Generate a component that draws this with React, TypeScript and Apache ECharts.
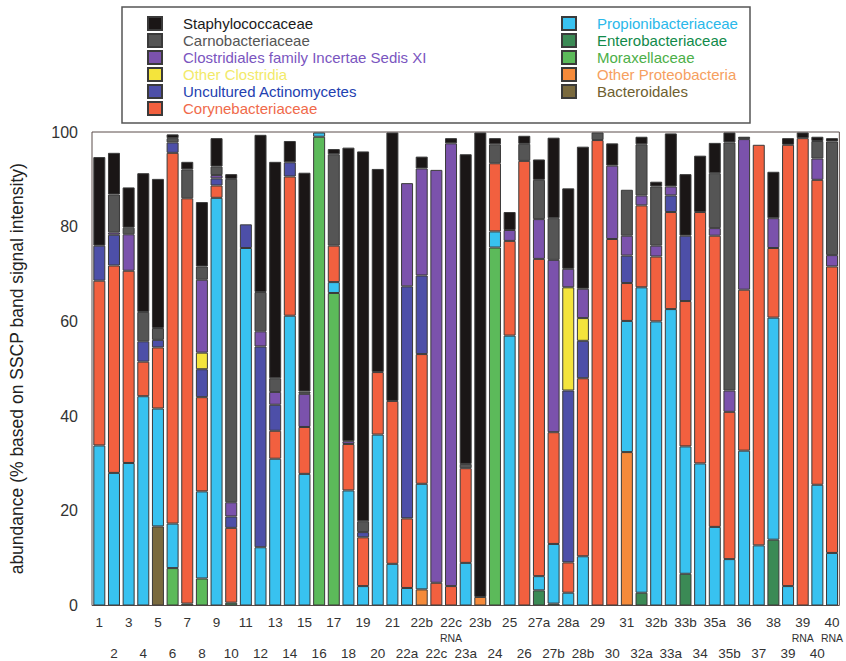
import React, { useEffect, useRef } from "react";
import * as echarts from "echarts";

const categories = [
  "1","2","3","4","5","6","7","8","9","10","11","12","13","14","15","16","17","18","19","20","21",
  "22a","22b","22c","22c RNA","23a","23b","24","25","26","27a","27b","28a","28b","29","30","31",
  "32a","32b","33a","33b","34","35a","35b","36","37","38","39","39 RNA","40","40 RNA",
];

// values per bar, bottom to top
const bacteroidales = [0,0,0,0,16.7,0,0,0,0,0,0,0,0,0,0,0,0,0,0,0,0, 0,0,0,0,0,0,0,0,0,0,0,0,0,0,0,0, 0,0,0,0,0,0,0,0,0,0,0,0,0,0];
const enterobacteriaceae = [0,0,0,0,0,0,0.4,0,0,0.6,0,0,0,0,0,0,0,0,0,0,0, 0,0,0,0,0,0,0,0,0,3.2,0.4,0,0,0,0,0, 2.7,0,0,6.7,0,0,0,0,0,13.9,0,0,0,0];
const moraxellaceae = [0,0,0,0,0,7.9,0,5.7,0,0,0,0,0,0,0,99.0,66.0,0,0,0,0, 0,0,0,0,0,0,75.6,0,0,0,0,0,0,0,0,0, 0,0,0,0,0,0,0,0,0,0,0,0,0,0];
const otherProteobacteria = [0,0,0,0,0,0,0,0,0,0,0,0,0,0,0,0,0,0,0,0,0, 0,3.4,0,0,0,1.8,0,0,0,0,0,0,0,0,0,32.4, 0,0,0,0,0,0,0,0,0,0,0,0,0,0];
const propionibacteriaceae = [33.8,28.0,30.1,44.2,24.9,9.4,0,18.4,86.1,0,75.5,12.3,31.0,61.2,27.8,0.9,2.3,24.3,4.1,36.1,8.8, 3.7,22.3,0,0,9.0,0,3.4,57.0,0,3.0,12.6,2.7,10.4,0,0,27.7, 64.5,60.0,62.6,26.9,30.0,16.6,9.8,32.7,12.7,46.9,4.1,0,25.5,11.1];
const corynebacteriaceae = [34.8,43.8,40.6,7.3,12.9,78.3,85.6,19.9,2.6,15.8,0,0,5.9,29.4,9.9,0,7.7,9.8,10.3,13.2,34.4, 14.7,27.4,4.8,4.1,20.0,0,14.4,20.0,93.9,67.0,23.6,6.4,37.6,98.3,77.4,8.0, 17.3,13.7,20.5,30.7,53.1,61.5,31.1,34.0,84.6,14.7,93.2,98.7,64.4,60.5];
const unculturedActinomycetes = [7.4,6.5,0,4.3,1.6,2.2,0,5.9,1.5,2.4,5.0,42.4,5.5,3.0,0,0,0,0,1.1,0,0, 49.0,16.6,0,0,0,0,0,0,0,0,0,36.3,7.9,0,0,5.8, 0,0,3.5,13.8,0,0,0,0,0,0,0,0,0,0];
const otherClostridia = [0,0,0,0,0,0,0,3.5,0,0,0,0,0,0,0,0,0,0,0,0,0, 0,0,0,0,0,0,0,0,0,0,0,21.8,4.8,0,0,0, 0,0,0,0,0,0,0,0,0,0,0,0,0,0];
const clostridialesXI = [0,0.5,7.7,0,0,0,0,15.4,0.7,3.0,0,3.2,2.7,0,7.0,0,0,0.6,0,0,0, 21.8,22.6,87.2,93.5,0,0,0,2.3,0,8.4,36.4,3.9,6.2,0,15.5,4.2, 2.1,2.3,1.9,0,0,1.6,4.5,31.8,0,6.3,0,0,4.5,2.4];
const carnobacteriaceae = [0,8.0,1.4,6.2,2.5,0.9,6.1,2.8,1.8,68.3,0,8.3,2.9,0,0.5,0,19.3,0,2.3,0,0, 0,0,0,0,0.9,0,4.0,0,3.6,8.3,8.8,0,0,1.6,0,9.7, 10.8,12.5,0,0,0,11.6,52.4,0,0,0,0,0,3.7,24.0];
const staphylococcaceae = [18.7,8.8,8.5,29.3,31.5,0.8,1.6,13.6,6.0,1.0,0,33.2,45.7,4.5,46.2,0,1.1,62.0,78.1,42.9,56.7, 0,2.5,0,1.1,65.4,98.1,1.3,3.8,1.7,4.3,17.0,17.0,30.0,0,4.7,0, 1.6,1.0,11.2,13.0,11.9,6.4,2.1,0.5,0,9.8,1.4,1.2,0.9,0.7];

const yTicks = [0, 20, 40, 60, 80, 100];

const seriesDefs = [
  { name: "Bacteroidales", data: bacteroidales, color: "#7a6a3e", text: "#6e6030" },
  { name: "Enterobacteriaceae", data: enterobacteriaceae, color: "#3b8a55", text: "#118a4a" },
  { name: "Moraxellaceae", data: moraxellaceae, color: "#5cba5a", text: "#4caf48" },
  { name: "Other Proteobacteria", data: otherProteobacteria, color: "#f58a3a", text: "#f6a060" },
  { name: "Propionibacteriaceae", data: propionibacteriaceae, color: "#38c2f0", text: "#2ab8ea" },
  { name: "Corynebacteriaceae", data: corynebacteriaceae, color: "#f2603f", text: "#f06a4a" },
  { name: "Uncultured Actinomycetes", data: unculturedActinomycetes, color: "#4d4fa8", text: "#2340b0" },
  { name: "Other Clostridia", data: otherClostridia, color: "#f4e43c", text: "#f2ea6a" },
  { name: "Clostridiales family Incertae Sedis XI", data: clostridialesXI, color: "#7b52ac", text: "#7a55c0" },
  { name: "Carnobacteriaceae", data: carnobacteriaceae, color: "#555555", text: "#555555" },
  { name: "Staphylococcaceae", data: staphylococcaceae, color: "#1a1616", text: "#1a1a1a" },
];

const leftLegend = [
  "Staphylococcaceae",
  "Carnobacteriaceae",
  "Clostridiales family Incertae Sedis XI",
  "Other Clostridia",
  "Uncultured Actinomycetes",
  "Corynebacteriaceae",
];
const rightLegend = [
  "Propionibacteriaceae",
  "Enterobacteriaceae",
  "Moraxellaceae",
  "Other Proteobacteria",
  "Bacteroidales",
];

const FONT = "'Liberation Sans', Arial, Helvetica, sans-serif";

export default function App() {
  const ref = useRef<HTMLDivElement>(null);
  useEffect(() => {
    if (!ref.current) return;
    const chart = echarts.init(ref.current, null, { renderer: "svg" });
    const textColor = (n: string) => seriesDefs.find((s) => s.name === n)!.text;
    const legendCommon = {
      orient: "vertical" as const,
      itemWidth: 14,
      itemHeight: 13,
      itemGap: 2,
      padding: 0,
      icon: "rect",
      selectedMode: false,
      textStyle: { fontSize: 15, lineHeight: 13, fontFamily: FONT, padding: [0, 0, 0, 16] },
    };
    chart.setOption({
      animation: false,
      backgroundColor: "#ffffff",
      textStyle: { fontFamily: FONT },
      graphic: [
        {
          type: "rect",
          shape: { x: 122, y: 7, width: 628, height: 116 },
          style: { fill: "#ffffff", stroke: "#555555", lineWidth: 1.5 },
          z: -1,
        },
      ],
      legend: [
        {
          ...legendCommon,
          left: 147,
          top: 16,
          data: leftLegend.map((n) => ({ name: n, textStyle: { color: textColor(n) } })),
        },
        {
          ...legendCommon,
          left: 561,
          top: 16,
          data: rightLegend.map((n) => ({ name: n, textStyle: { color: textColor(n) } })),
        },
      ],
      grid: {
        left: 84,
        right: 4,
        top: 132,
        bottom: 55,
        show: true,
        borderColor: "#5b4c4a",
        borderWidth: 1,
        backgroundColor: "transparent",
      },
      xAxis: {
        type: "category",
        data: categories,
        axisLine: { show: false },
        axisTick: { show: false },
        axisLabel: {
          interval: 0,
          fontSize: 13.5,
          color: "#333333",
          margin: 9,
          lineHeight: 15.5,
          fontFamily: FONT,
          formatter: (val: string, idx: number) => {
            const parts = val.split(" ");
            if (idx % 2 === 0) {
              return parts[1] ? `${parts[0]}\n{r|${parts[1]}}` : parts[0];
            }
            return `\n\n${parts[0]}`;
          },
          rich: {
            r: { fontSize: 10.5, lineHeight: 15.5, color: "#333333", fontFamily: FONT },
          },
        },
      },
      yAxis: {
        type: "value",
        min: 0,
        max: 100,
        interval: 20,
        name: "abundance (% based on SSCP band signal intensity)",
        nameLocation: "middle",
        nameGap: 66,
        nameTextStyle: { fontSize: 17.5, color: "#222222", fontFamily: FONT },
        axisLine: { show: false },
        axisTick: { show: false },
        splitLine: { show: false },
        axisLabel: {
          fontSize: 16,
          color: "#333333",
          margin: 14,
          fontFamily: FONT,
          formatter: (v: number) => (yTicks.includes(v) ? String(v) : ""),
        },
      },
      series: seriesDefs.map((s) => ({
        name: s.name,
        type: "bar",
        stack: "total",
        barWidth: 12,
        data: s.data.map((v) => (v === 0 ? null : v)),
        itemStyle: { color: s.color, borderColor: "#3a3a3a", borderWidth: 1 },
        emphasis: { disabled: true },
      })),
    });
    return () => chart.dispose();
  }, []);
  return (
    <div
      ref={ref}
      style={{ position: "absolute", left: 0, top: 0, width: 846, height: 661 }}
    />
  );
}
